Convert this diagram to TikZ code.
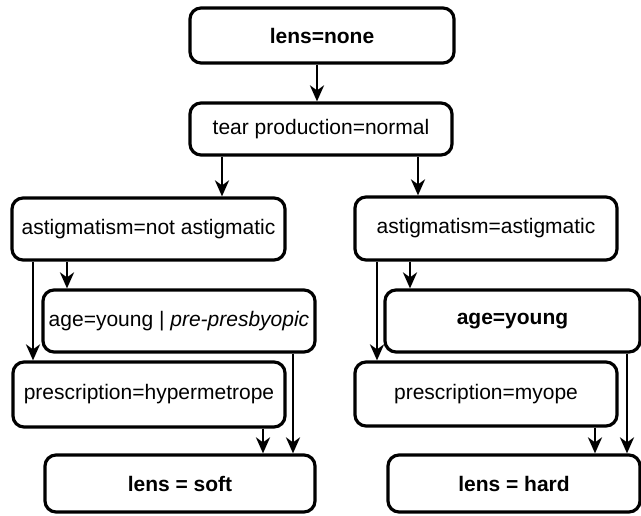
\documentclass[tikz,border=0pt]{standalone}
\usepackage{fontspec}
\setmainfont{Liberation Sans}
\usetikzlibrary{arrows.meta}
\begin{document}
\begin{tikzpicture}[x=1pt,y=-1pt,
  box/.style={draw, line width=3.2pt, rounded corners=11pt, inner sep=0pt,
    font=\fontsize{21}{25}\selectfont},
  bbox/.style={box, font=\fontsize{21}{25}\selectfont\bfseries},
  arr/.style={line width=2.8pt, -{Stealth[length=16pt,width=14pt,inset=5pt]}}]
\useasboundingbox (0,0) rectangle (641,515);

% rule nodes
\node[bbox, minimum width=264pt, minimum height=55pt] (none) at (322,35.5) {lens=none};
\node[box,  minimum width=262pt, minimum height=52pt] (tear) at (321,129) {tear production=normal};
\node[box,  minimum width=273pt, minimum height=62pt] (astN) at (148.5,229) {astigmatism=not astigmatic};
\node[box,  minimum width=262pt, minimum height=63pt] (astA) at (486,228.5) {astigmatism=astigmatic};
\node[box,  minimum width=272pt, minimum height=62pt] (ageL) at (179,321) {age=young | \itshape pre-presbyopic};
\node[bbox, minimum width=255pt, minimum height=62pt] (ageR) at (512.5,321) {age=young};
\node[box,  minimum width=272pt, minimum height=65pt] (prL) at (149,394.5) {prescription=hypermetrope};
\node[box,  minimum width=262pt, minimum height=64pt] (prR) at (486,394) {prescription=myope};
\node[bbox, minimum width=270pt, minimum height=57pt] (soft) at (180,483.5) {lens = soft};
\node[bbox, minimum width=252pt, minimum height=57pt] (hard) at (514,483.5) {lens = hard};

% connector columns
\coordinate (c1) at (317,0);
\coordinate (c2) at (222,0);
\coordinate (c3) at (418,0);
\coordinate (c4) at (33,0);
\coordinate (c5) at (67,0);
\coordinate (c6) at (377,0);
\coordinate (c7) at (410,0);
\coordinate (c8) at (263,0);
\coordinate (c9) at (293,0);
\coordinate (c10) at (595,0);
\coordinate (c11) at (627,0);

% connectors
\draw[arr] (c1 |- none.south) -- (c1 |- tear.north);
\draw[arr] (c2 |- tear.south) -- (c2 |- astN.north);
\draw[arr] (c3 |- tear.south) -- (c3 |- astA.north);
\draw[arr] (c4 |- astN.south) -- (c4 |- prL.north);
\draw[arr] (c5 |- astN.south) -- (c5 |- ageL.north);
\draw[arr] (c6 |- astA.south) -- (c6 |- prR.north);
\draw[arr] (c7 |- astA.south) -- (c7 |- ageR.north);
\draw[arr] (c8 |- prL.south) -- (c8 |- soft.north);
\draw[arr] (c9 |- ageL.south) -- (c9 |- soft.north);
\draw[arr] (c10 |- prR.south) -- (c10 |- hard.north);
\draw[arr] (c11 |- ageR.south) -- (c11 |- hard.north);
\end{tikzpicture}
\end{document}
